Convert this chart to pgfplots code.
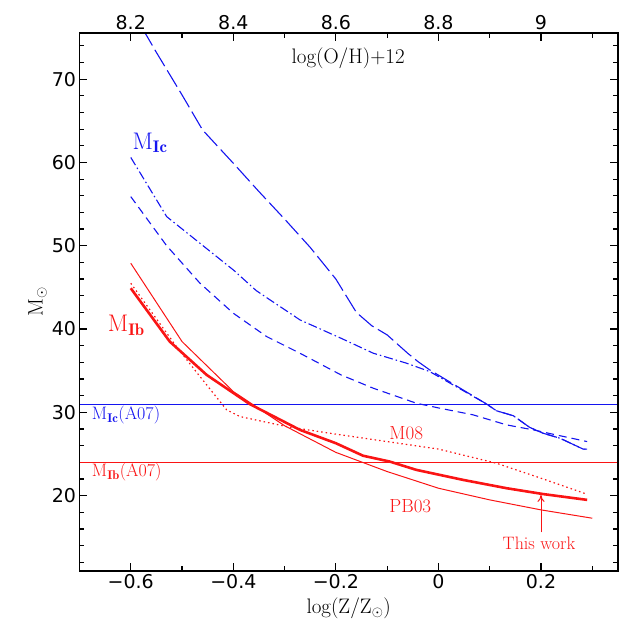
\documentclass[border=0pt]{standalone}
\usepackage{fontspec}
\setsansfont{DejaVu Sans}
\usepackage{pgfplots}
\pgfplotsset{compat=1.18}
\usetikzlibrary{arrows.meta}

\definecolor{mblue}{RGB}{20,20,240}
\definecolor{mred}{RGB}{250,20,20}

\newcommand{\tickfont}{\sffamily\fontsize{19}{19}\selectfont}
\newcommand{\labfont}{\fontsize{21}{21}\selectfont}

\begin{document}
\begin{tikzpicture}
\begin{axis}[
    name=ax,
    width=538.5pt, height=537.5pt, scale only axis,
    xmin=-0.7, xmax=0.35, ymin=11, ymax=75.5,
    xtick={-0.6,-0.4,-0.2,0,0.2},
    xticklabels={−0.6,−0.4,−0.2,0,0.2},
    minor xtick={-0.5,-0.3,-0.1,0.1,0.3},
    ytick={20,30,40,50,60,70},
    minor ytick={12,14,...,74},
    xtick pos=lower, ytick pos=both,
    tick align=inside,
    major tick length=8pt, minor tick length=4.5pt,
    axis line style={line width=1.8pt},
    every tick/.style={black, line width=1.2pt},
    ticklabel style={font=\tickfont},
    /pgf/number format/assume math mode=true,
    xlabel={log(Z/Z$_\odot$)},
    ylabel={M$_\odot$},
    label style={font=\labfont},
    xlabel style={yshift=-2pt},
    ylabel style={yshift=-2pt},
    clip=true,
]
% horizontal A07 limits
\addplot[mblue, line width=1pt] coordinates {(-0.7,31) (0.35,31)};
\addplot[mred, line width=1pt] coordinates {(-0.7,24) (0.35,24)};

% M_Ic upper (long dash)
\addplot[mblue, line width=1.1pt, dash pattern=on 19pt off 5pt] coordinates {
(-0.6,78.5) (-0.55,73.2) (-0.5,68.1) (-0.46,63.9) (-0.4,59.9) (-0.35,56.5)
(-0.3,53.2) (-0.25,49.8) (-0.2,46.0) (-0.16,42.0) (-0.13,40.4) (-0.1,39.3)
(-0.06,37.1) (-0.04,36.1) (-0.017,35.1) (0.094,31.0) (0.113,30.2) (0.146,29.6)
(0.178,28.2) (0.204,27.5) (0.237,26.9) (0.282,25.6) (0.29,25.6)};

% M_Ic middle (dash dot)
\addplot[mblue, line width=1.1pt, dash pattern=on 9pt off 3pt on 1.5pt off 3pt] coordinates {
(-0.6,60.6) (-0.53,53.5) (-0.465,50.3) (-0.4,47.1) (-0.355,44.6) (-0.27,41.1)
(-0.19,38.9) (-0.127,37.1) (-0.062,35.9) (-0.017,34.9) (0.094,31.0) (0.113,30.2)
(0.146,29.6) (0.178,28.2) (0.204,27.5) (0.237,26.9) (0.282,25.6) (0.29,25.6)};

% M_Ic lower (short dash)
\addplot[mblue, line width=1.1pt, dash pattern=on 8pt off 5pt] coordinates {
(-0.6,55.9) (-0.53,50.0) (-0.465,45.5) (-0.4,41.9) (-0.335,39.1) (-0.27,37.1)
(-0.19,34.5) (-0.127,32.9) (-0.043,31.1) (0.003,30.5) (0.068,29.7) (0.133,28.5)
(0.185,27.9) (0.237,27.2) (0.29,26.5)};

% PB03 (thin solid)
\addplot[mred, line width=1pt] coordinates {
(-0.6,47.9) (-0.5,38.5) (-0.4,32.5) (-0.3,28.4) (-0.2,25.2) (-0.1,22.9)
(0,20.9) (0.1,19.5) (0.2,18.3) (0.3,17.3)};

% M08 (dotted)
\addplot[mred, line width=1.2pt, dash pattern=on 1.5pt off 3pt] coordinates {
(-0.6,45.5) (-0.511,37.9) (-0.465,34.3) (-0.413,30.3) (-0.387,29.5) (-0.296,28.3)
(-0.212,27.5) (0.0,25.6) (0.113,23.9) (0.2,22.1) (0.289,20.2)};

% This work (thick solid)
\addplot[mred, line width=2.6pt] coordinates {
(-0.6,44.9) (-0.524,38.5) (-0.452,34.5) (-0.368,31.0) (-0.27,27.9) (-0.2,26.3)
(-0.147,24.8) (-0.095,24.1) (-0.043,23.1) (0.048,21.9) (0.133,20.9) (0.204,20.2)
(0.29,19.5)};

% annotations
\node[font=\labfont, anchor=center] at (axis cs:-0.176,72.5) {log(O/H)+12};
\node[mblue, font=\fontsize{24}{24}\selectfont, anchor=base west, inner sep=0pt]
  at (axis cs:-0.597,61.6) {M$_{\mathbf{Ic}}$};
\node[mred, font=\fontsize{24}{24}\selectfont, anchor=base west, inner sep=0pt]
  at (axis cs:-0.645,39.7) {M$_{\mathbf{Ib}}$};
\node[mblue, font=\fontsize{18}{18}\selectfont, anchor=base west, inner sep=0pt]
  at (axis cs:-0.676,29.1) {M$_{\mathbf{Ic}}$(A07)};
\node[mred, font=\fontsize{18}{18}\selectfont, anchor=base west, inner sep=0pt]
  at (axis cs:-0.676,22.3) {M$_{\mathbf{Ib}}$(A07)};
\node[mred, font=\fontsize{19}{19}\selectfont, anchor=base west, inner sep=0pt]
  at (axis cs:-0.096,26.8) {M08};
\node[mred, font=\fontsize{19}{19}\selectfont, anchor=base west, inner sep=0pt]
  at (axis cs:-0.096,18.0) {PB03};
\node[mred, font=\fontsize{18}{18}\selectfont, anchor=base west, inner sep=0pt]
  at (axis cs:0.125,13.5) {This work};
\draw[mred, line width=1pt, -{To[length=7pt,width=7pt]}]
  (axis cs:0.2,15.6) -- (axis cs:0.2,20.1);
\end{axis}

\begin{axis}[
    width=538.5pt, height=537.5pt, scale only axis,
    xmin=8.1, xmax=9.15, ymin=11, ymax=75.5,
    xtick={8.2,8.4,8.6,8.8,9},
    xticklabels={8.2,8.4,8.6,8.8,9},
    minor xtick={8.3,8.5,8.7,8.9,9.1},
    ytick=\empty,
    xtick pos=upper, xticklabel pos=upper,
    tick align=inside,
    major tick length=8pt, minor tick length=4.5pt,
    axis line style={line width=1.8pt},
    every tick/.style={black, line width=1.2pt},
    ticklabel style={font=\tickfont},
]
\end{axis}

\pgfresetboundingbox
\path[use as bounding box] ([shift={(-79.5pt,-62.3pt)}]ax.south west)
  rectangle ([shift={(8pt,33.3pt)}]ax.north east);
\end{tikzpicture}
\end{document}
